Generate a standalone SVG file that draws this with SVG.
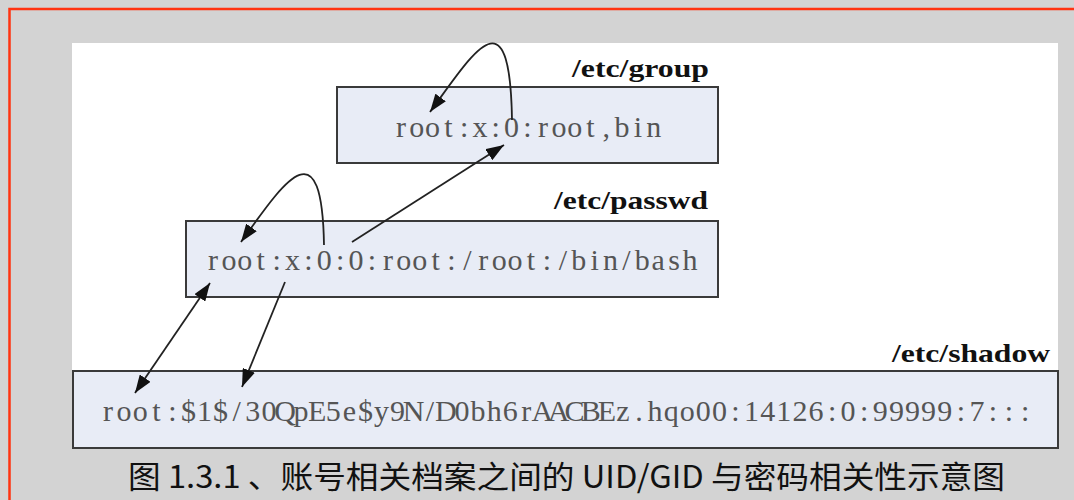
<svg xmlns="http://www.w3.org/2000/svg" width="1074" height="500" viewBox="0 0 1074 500">
<style>
.box{fill:#e8ecf6;stroke:#3a3a3a;stroke-width:2}
.rec{font-family:"Liberation Serif","Times New Roman",serif;font-size:30px;fill:#555;text-anchor:middle}
.lbl{font-family:"Liberation Serif","Times New Roman",serif;font-size:26px;font-weight:bold;fill:#111;text-anchor:end}
.cap{font-family:"Noto Sans CJK SC","Noto Sans",sans-serif;font-size:31px;fill:#111}
.conn path{fill:none;stroke:#222;stroke-width:1.8}
</style>
<defs>
<marker id="ah" viewBox="0 0 18 13" refX="18" refY="6.5" markerWidth="18" markerHeight="13" markerUnits="userSpaceOnUse" orient="auto-start-reverse">
<path d="M0,0 L18,6.5 L0,13 z" fill="#111"/>
</marker>
</defs>
<rect x="0" y="0" width="1074" height="500" fill="#d3d3d3"/>
<rect x="9.5" y="9" width="1100" height="520" fill="none" stroke="#ff3311" stroke-width="2.5"/>
<rect x="72" y="43" width="986" height="328" fill="#ffffff"/>

<g id="group">
<rect class="box" x="337" y="87" width="381" height="76"/>
<text class="lbl" x="709" y="77" textLength="137" lengthAdjust="spacingAndGlyphs">/etc/group</text>
<text class="rec" y="137" x="400.9 416.7 432.5 448.3 464.1 479.9 495.7 511.5 527.3 543.1 558.9 574.7 590.5 606.3 622.1 637.9 653.7">root:x:0:root,bin</text>
</g>

<g id="passwd">
<rect class="box" x="186" y="221" width="532" height="76"/>
<text class="lbl" x="708" y="209" textLength="154" lengthAdjust="spacingAndGlyphs">/etc/passwd</text>
<text class="rec" y="270" x="213 228.9 244.8 260.7 276.6 292.5 308.4 324.3 340.2 356.1 372 387.9 403.8 419.7 435.6 451.5 467.4 483.3 499.2 515.1 531 546.9 562.8 578.7 594.6 610.5 626.4 642.3 658.2 674.1 690">root:x:0:0:root:/root:/bin/bash</text>
</g>

<g id="shadow">
<rect class="box" x="73" y="371" width="985" height="77"/>
<text class="lbl" x="1050" y="362" textLength="158" lengthAdjust="spacingAndGlyphs">/etc/shadow</text>
<text class="rec" y="421" x="108 124.1 140.2 156.3 172.4 188.5 204.5 220.6 236.7 252.8 268.9 285 301.1 317.2 333.3 349.4 365.4 381.5 397.6 413.7 429.8 445.9 462 478.1 494.2 510.3 526.3 542.4 558.5 574.6 590.7 606.8 622.9 639 655.1 671.2 687.2 703.3 719.4 735.5 751.6 767.7 783.8 799.9 816 832.1 848.1 864.2 880.3 896.4 912.5 928.6 944.7 960.8 976.9 993 1009 1025.1">root:$1$/30QpE5e$y9N/D0bh6rAACBEz.hqo00:14126:0:99999:7:::</text>
</g>

<g id="connectors" class="conn">
<path d="M512,120 C510,-10 474,52 430,112" marker-end="url(#ah)"/>
<path d="M324,245 C322,124 284,182 241,242" marker-end="url(#ah)"/>
<path d="M352,242 L504,145" marker-end="url(#ah)"/>
<path d="M210,283 L135,393" marker-start="url(#ah)" marker-end="url(#ah)"/>
<path d="M285,282 L242,387" marker-end="url(#ah)"/>
</g>

<text class="cap" x="128" y="488" textLength="877" lengthAdjust="spacingAndGlyphs">图 1.3.1 、账号相关档案之间的 UID/GID 与密码相关性示意图</text>
</svg>
